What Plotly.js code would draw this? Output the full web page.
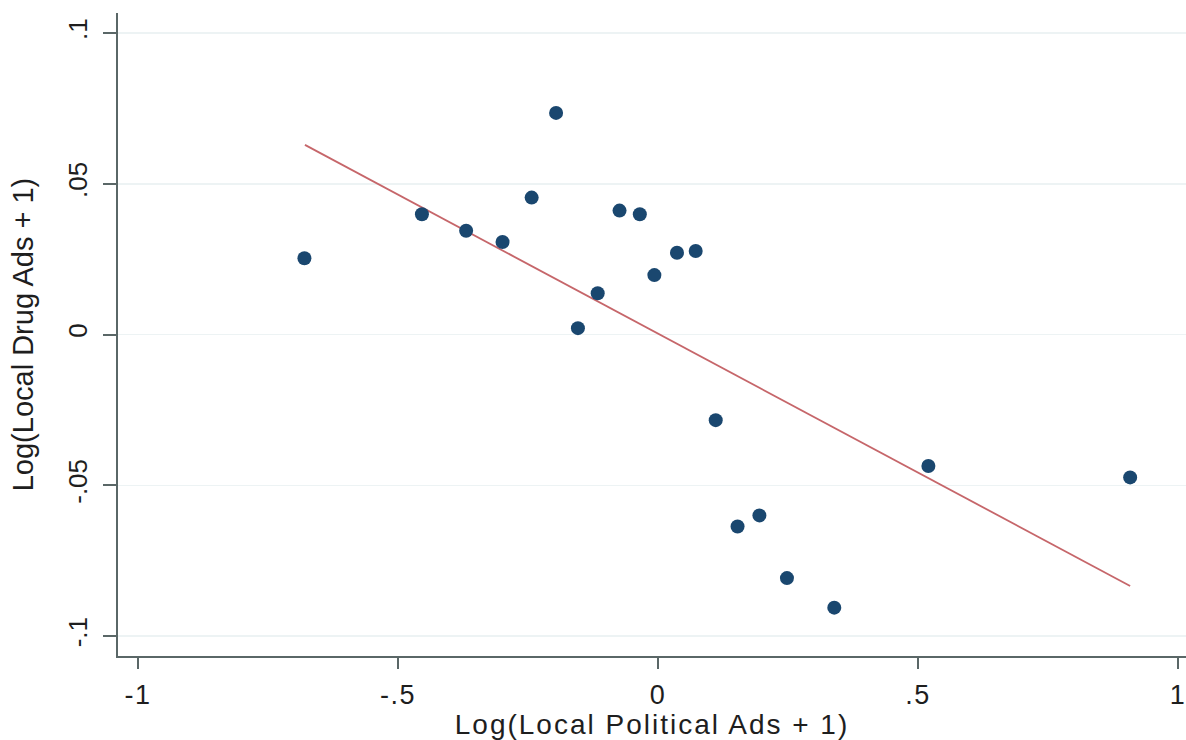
<!DOCTYPE html>
<html>
<head>
<meta charset="utf-8">
<script src="https://cdn.plot.ly/plotly-3.0.1.min.js"></script>
<style>
  html, body { margin: 0; padding: 0; background: #fff; }
  #chart { width: 1186px; height: 740px; }
  .xtick text { letter-spacing: 1.5px; }
  .g-xtitle text { letter-spacing: 2px; }
</style>
</head>
<body>
<div id="chart"></div>
<script>
// Data
const politicalAds = [-0.680, -0.454, -0.369, -0.299, -0.243, -0.196, -0.074, -0.035, -0.007, 0.0365,
                      0.0725, -0.116, -0.154, 0.111, 0.520, 0.153, 0.195, 0.248, 0.339, 0.908];
const drugAds = [0.0253, 0.0399, 0.0344, 0.0307, 0.0454, 0.0735, 0.0411, 0.0399, 0.0197, 0.0271,
                 0.0277, 0.0137, 0.0021, -0.0284, -0.0436, -0.0637, -0.0600, -0.0808, -0.0906, -0.0474];
// Fitted line as drawn (endpoints at min and max x)
const fitX = [-0.679, 0.908];
const fitY = [0.0629, -0.0834];

const xTickVals = [-1, -0.5, 0, 0.5, 1];
const xTickText = ["-1", "-.5", "0", ".5", "1"];
const yTickVals = [-0.1, -0.05, 0, 0.05, 0.1];
const yTickText = ["-.1", "-.05", "0", ".05", ".1"];

const font = "Liberation Sans, Arial, Helvetica, sans-serif";

const traces = [
  {
    x: fitX, y: fitY, type: "scatter", mode: "lines",
    line: { color: "#c6666a", width: 1.8 },
    hoverinfo: "skip", showlegend: false
  },
  {
    x: politicalAds, y: drugAds, type: "scatter", mode: "markers",
    marker: { color: "#1a476f", size: 14, line: { width: 0 } },
    showlegend: false
  }
];

const layout = {
  width: 1186, height: 740,
  paper_bgcolor: "#ffffff", plot_bgcolor: "#ffffff",
  margin: { l: 118, r: 0, t: 13, b: 84, pad: 0 },
  font: { family: font, color: "#1e1e1e" },
  showlegend: false,
  xaxis: {
    range: [-1.0385, 1.0154],
    tickvals: xTickVals, ticktext: xTickText,
    ticks: "outside", ticklen: 11, tickwidth: 2, tickcolor: "#5a6767",
    showline: true, linecolor: "#5a6767", linewidth: 2,
    showgrid: false, zeroline: false,
    tickfont: { size: 27, color: "#1e1e1e" },
    ticklabeloverflow: "allow",
    ticklabelstandoff: 3,
    title: { text: "Log(Local Political Ads + 1)", font: { size: 28, color: "#1e1e1e" }, standoff: 3 }
  },
  yaxis: {
    range: [-0.10663, 0.10663],
    tickvals: yTickVals, ticktext: yTickText,
    tickangle: -90,
    ticks: "outside", ticklen: 13, tickwidth: 2, tickcolor: "#5a6767",
    showline: true, linecolor: "#5a6767", linewidth: 2,
    showgrid: true, gridcolor: "#edf3f4", gridwidth: 1.5,
    zeroline: false,
    tickfont: { size: 26, color: "#1e1e1e" },
    ticklabeloverflow: "allow",
    ticklabelstandoff: 6,
    title: { text: "Log(Local Drug Ads + 1)", font: { size: 29, color: "#1e1e1e" }, standoff: 20 }
  }
};

Plotly.newPlot("chart", traces, layout, { displayModeBar: false, staticPlot: true });
</script>
</body>
</html>
